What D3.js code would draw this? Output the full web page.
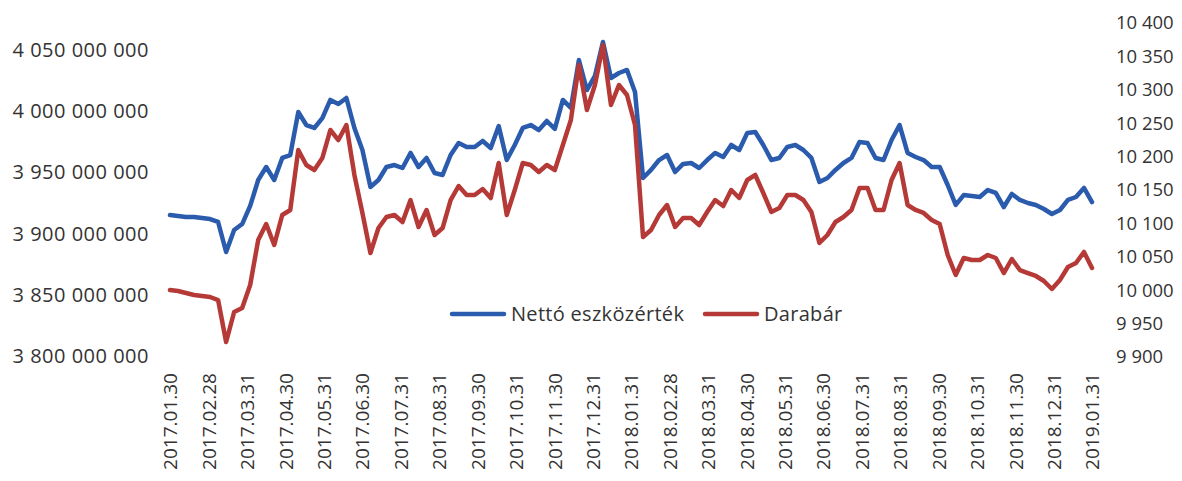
<!DOCTYPE html>
<html>
<head>
<meta charset="utf-8">
<script src="https://cdn.jsdelivr.net/npm/d3@7"></script>
<style>
  body { margin: 0; background: #fff; }
  svg { display: block; font-family: "Open Sans", sans-serif; }
  .tick text { fill: #333; }
</style>
</head>
<body>
<svg id="chart" width="1182" height="481"></svg>
<script>
// month-end labels on the category axis
const dateLabels = ["2017.01.30","2017.02.28","2017.03.31","2017.04.30","2017.05.31","2017.06.30",
  "2017.07.31","2017.08.31","2017.09.30","2017.10.31","2017.11.30","2017.12.31","2018.01.31",
  "2018.02.28","2018.03.31","2018.04.30","2018.05.31","2018.06.30","2018.07.31","2018.08.31",
  "2018.09.30","2018.10.31","2018.11.30","2018.12.31","2019.01.31"]

// Nettó eszközérték, millió Ft (left axis), roughly weekly readings
const nettoMillio = [3915.2,3914.4,3913.6,3913.6,3912.7,3911.9,3909.5,3885.0,3902.9,3907.8,
  3922.6,3943.8,3954.4,3943.8,3961.8,3964.2,3999.3,3988.7,3986.3,3994.4,
  4009.2,4005.9,4010.8,3986.3,3968.3,3938.1,3943.8,3954.4,3956.0,3953.6,
  3965.9,3954.4,3961.8,3949.5,3947.9,3964.2,3974.0,3970.8,3970.8,3975.7,
  3969.9,3987.9,3960.1,3972.4,3986.3,3988.7,3984.6,3992.0,3985.5,4009.2,
  4002.6,4041.8,4017.3,4028.8,4056.5,4027.1,4031.2,4033.7,4015.7,3945.4,
  3952.0,3960.1,3964.2,3950.3,3956.9,3957.7,3953.6,3960.1,3965.9,3962.6,
  3972.4,3968.3,3982.2,3983.0,3972.4,3960.1,3961.8,3970.8,3972.4,3968.3,
  3961.8,3942.2,3945.4,3952.0,3957.7,3961.8,3974.8,3974.0,3961.8,3960.1,
  3976.5,3988.7,3965.9,3962.6,3960.1,3954.4,3954.4,3939.7,3923.4,3931.5,
  3930.7,3929.9,3935.6,3933.2,3921.7,3932.4,3927.5,3925.0,3923.4,3920.1,
  3916.0,3919.3,3927.5,3929.9,3937.3,3925.8]

// Darabár (right axis)
const darabar = [10000.3,9998.8,9995.8,9992.8,9991.3,9989.8,9985.3,9922.5,9967.4,9973.4,
  10007.8,10075.1,10099.1,10067.7,10112.6,10120.1,10209.9,10187.4,10179.9,10197.9,
  10239.8,10224.8,10247.3,10172.5,10115.6,10055.7,10093.1,10109.6,10112.6,10102.1,
  10135.0,10094.6,10120.1,10082.6,10093.1,10135.0,10156.0,10142.5,10142.5,10151.5,
  10138.0,10190.4,10112.6,10150.0,10190.4,10187.4,10176.9,10187.4,10179.9,10217.4,
  10254.8,10337.1,10269.8,10307.2,10367.1,10277.2,10307.2,10292.2,10247.3,10079.6,
  10090.1,10112.6,10127.5,10094.6,10108.1,10108.1,10097.6,10117.1,10135.0,10126.0,
  10150.0,10138.0,10165.0,10172.5,10145.5,10117.1,10123.1,10142.5,10142.5,10135.0,
  10117.1,10070.7,10082.6,10102.1,10109.6,10120.1,10153.0,10153.0,10120.1,10120.1,
  10165.0,10190.4,10127.5,10120.1,10115.6,10105.1,10099.1,10052.7,10022.8,10048.2,
  10045.2,10045.2,10052.7,10048.2,10025.7,10046.7,10030.2,10025.7,10021.3,10013.8,
  10001.8,10015.3,10034.7,10040.7,10057.2,10033.2]

const leftTicks = [3800e6,3850e6,3900e6,3950e6,4000e6,4050e6]
const rightTicks = [9900,9950,10000,10050,10100,10150,10200,10250,10300,10350,10400]

const seriesNames = ["Nettó eszközérték","Darabár"]
const colors = ["#2b5bad","#b53a37"]

const svg = d3.select("#chart")
const huFormat = d3.formatLocale({decimal:",", thousands:" ", grouping:[3], currency:["",""]}).format(",.0f")

let x = d3.scaleLinear().domain([0, nettoMillio.length-1]).range([170, 1092])
let xLabel = d3.scalePoint().domain(dateLabels).range([170, 1092])
let yLeft = d3.scaleLinear().domain([3800e6, 4050e6]).range([356, 50])
let yRight = d3.scaleLinear().domain([9900, 10400]).range([357, 23])

// left axis
let leftAxis = svg.append("g")
  .attr("transform","translate(149,0)")
  .call(d3.axisLeft(yLeft).tickValues(leftTicks).tickFormat(huFormat).tickSize(0).tickPadding(0))
leftAxis.select(".domain").remove()
leftAxis.selectAll("text")
  .style("font-size","20px")
  .style("letter-spacing","0.5px")
  .style("font-family","'Open Sans', sans-serif")

// right axis
let rightAxis = svg.append("g")
  .attr("transform","translate(1116,0)")
  .call(d3.axisRight(yRight).tickValues(rightTicks).tickFormat(huFormat).tickSize(0).tickPadding(0))
rightAxis.select(".domain").remove()
rightAxis.selectAll("text").style("font-size","18.5px").style("font-family","'Open Sans', sans-serif")

// bottom labels, vertical
let bottomAxis = svg.append("g")
  .attr("transform","translate(0,373)")
  .call(d3.axisBottom(xLabel).tickSize(0).tickPadding(0))
bottomAxis.select(".domain").remove()
bottomAxis.selectAll("text")
  .attr("transform","rotate(-90)")
  .attr("x",0)
  .attr("y",0)
  .attr("dy","0.36em")
  .style("text-anchor","end")
  .style("font-size","19px")
  .style("font-family","'Open Sans', sans-serif")

// lines
let lineLeft = d3.line().x((d,i)=>x(i)).y(d=>yLeft(d*1e6))
let lineRight = d3.line().x((d,i)=>x(i)).y(d=>yRight(d))

svg.append("path")
  .datum(nettoMillio)
  .attr("d",lineLeft)
  .attr("fill","none")
  .attr("stroke",colors[0])
  .attr("stroke-width",4.5)
  .attr("stroke-linejoin","round")
  .attr("stroke-linecap","round")

svg.append("path")
  .datum(darabar)
  .attr("d",lineRight)
  .attr("fill","none")
  .attr("stroke",colors[1])
  .attr("stroke-width",4.5)
  .attr("stroke-linejoin","round")
  .attr("stroke-linecap","round")

// legend
const legendItems = [{x:452, tx:511}, {x:705, tx:764}]
let legend = svg.append("g")
legend.selectAll("line")
  .data(seriesNames)
  .enter()
  .append("line")
  .attr("x1",(d,i)=>legendItems[i].x)
  .attr("x2",(d,i)=>legendItems[i].x+52)
  .attr("y1",314)
  .attr("y2",314)
  .attr("stroke",(d,i)=>colors[i])
  .attr("stroke-width",4.5)
  .attr("stroke-linecap","round")
legend.selectAll("text")
  .data(seriesNames)
  .enter()
  .append("text")
  .text(d=>d)
  .attr("x",(d,i)=>legendItems[i].tx)
  .attr("y",314)
  .attr("dy","0.35em")
  .attr("fill","#333")
  .style("font-size","20px")
  .style("letter-spacing","0.3px")
  .style("font-family","'Open Sans', sans-serif")
</script>
</body>
</html>
